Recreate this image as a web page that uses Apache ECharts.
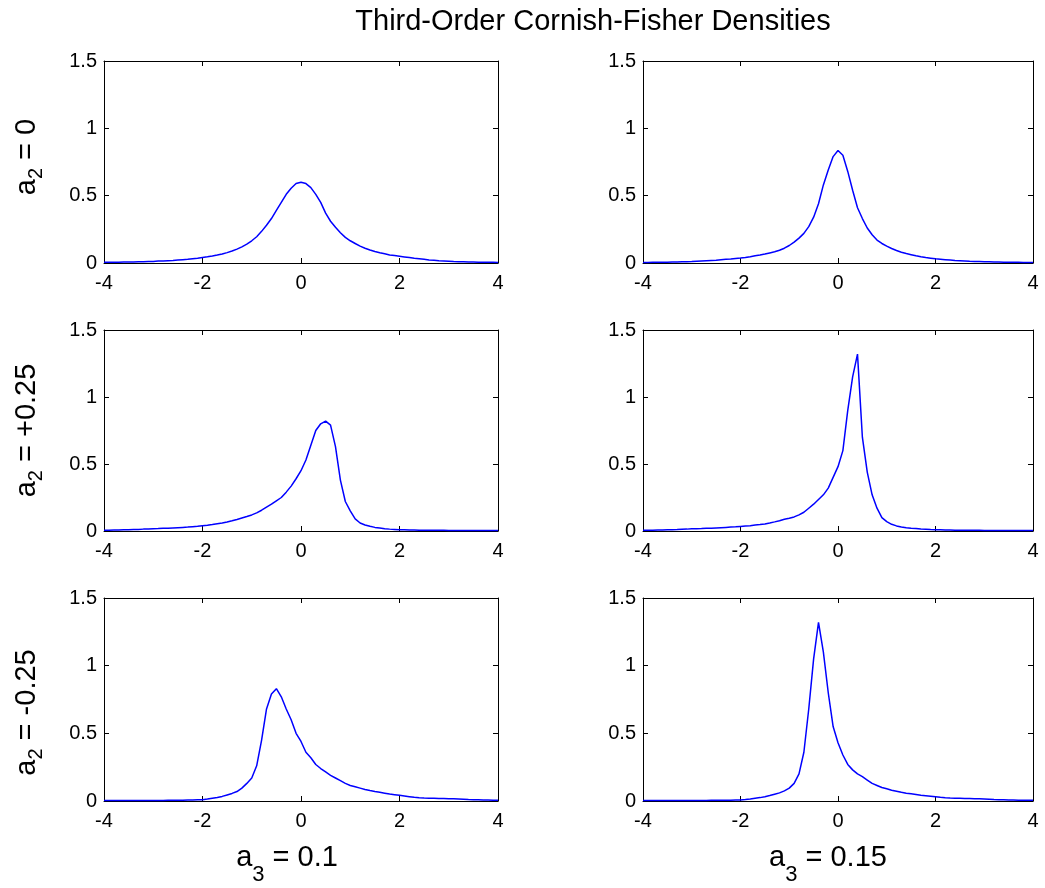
<!DOCTYPE html>
<html>
<head>
<meta charset="utf-8">
<script src="https://cdn.jsdelivr.net/npm/echarts@6/dist/echarts.min.js"></script>
<style>
html,body{margin:0;padding:0;background:#fff;}
#chart{width:1045px;height:888px;}
</style>
</head>
<body>
<div id="chart"></div>
<script>
const titleText = 'Third-Order Cornish-Fisher Densities';
const rowLabels = ['0', '+0.25', '-0.25'];   // a2 values
const colLabels = ['0.1', '0.15'];           // a3 values
const xTicks = [-4, -2, 0, 2, 4];
const yTicks = [0, 0.5, 1, 1.5];

const xs = [-4,-3.9,-3.8,-3.7,-3.6,-3.5,-3.4,-3.3,-3.2,-3.1,
  -3,-2.9,-2.8,-2.7,-2.6,-2.5,-2.4,-2.3,-2.2,-2.1,
  -2,-1.9,-1.8,-1.7,-1.6,-1.5,-1.4,-1.3,-1.2,-1.1,
  -1,-0.9,-0.8,-0.7,-0.6,-0.5,-0.4,-0.3,-0.2,-0.1,
  0,0.1,0.2,0.3,0.4,0.5,0.6,0.7,0.8,0.9,
  1,1.1,1.2,1.3,1.4,1.5,1.6,1.7,1.8,1.9,
  2,2.1,2.2,2.3,2.4,2.5,2.6,2.7,2.8,2.9,
  3,3.1,3.2,3.3,3.4,3.5,3.6,3.7,3.8,3.9,
  4];

// a2 = 0, a3 = 0.1
const yA2_0_A3_010 = [.005,.005,.006,.006,.007,.007,.008,.009,.010,.011,
  .012,.014,.015,.017,.019,.022,.025,.028,.032,.036,
  .041,.046,.052,.059,.067,.077,.089,.103,.12,.14,
  .165,.195,.235,.28,.33,.39,.45,.51,.555,.59,
  .6,.59,.56,.51,.45,.37,.31,.265,.225,.19,
  .165,.145,.125,.11,.097,.085,.076,.068,.06,.055,
  .05,.045,.04,.035,.031,.027,.023,.02,.017,.015,
  .013,.011,.01,.009,.008,.007,.006,.006,.005,.005,
  .004];
// a2 = 0, a3 = 0.15
const yA2_0_A3_015 = [.004,.004,.005,.005,.006,.006,.007,.008,.009,.01,
  .011,.013,.015,.017,.019,.021,.024,.027,.03,.034,
  .037,.041,.047,.054,.06,.067,.075,.083,.095,.11,
  .13,.155,.185,.22,.27,.34,.44,.58,.69,.79,
  .835,.8,.68,.54,.41,.33,.26,.21,.17,.145,
  .125,.108,.093,.08,.07,.062,.054,.047,.041,.036,
  .031,.028,.025,.022,.019,.017,.015,.013,.012,.011,
  .01,.009,.008,.007,.006,.006,.005,.005,.004,.004,
  .004];
// a2 = +0.25, a3 = 0.1
const yA2_p25_A3_010 = [.005,.006,.007,.008,.009,.01,.011,.012,.014,.015,
  .017,.018,.02,.021,.023,.025,.027,.029,.032,.035,
  .039,.043,.048,.054,.06,.067,.076,.086,.097,.108,
  .12,.135,.155,.178,.2,.225,.25,.29,.335,.39,
  .45,.53,.64,.75,.8,.82,.79,.63,.38,.22,
  .15,.09,.06,.045,.035,.027,.022,.017,.014,.012,
  .01,.009,.008,.007,.006,.006,.005,.005,.005,.005,
  .004,.004,.004,.004,.004,.004,.004,.004,.004,.004,
  .004];
// a2 = +0.25, a3 = 0.15
const yA2_p25_A3_015 = [.005,.005,.006,.007,.008,.009,.01,.011,.013,.014,
  .016,.017,.018,.02,.021,.023,.025,.027,.029,.031,
  .034,.037,.04,.044,.048,.053,.06,.068,.077,.087,
  .095,.105,.12,.14,.17,.2,.235,.27,.32,.4,
  .48,.6,.9,1.15,1.32,.7,.44,.27,.17,.1,
  .07,.05,.038,.03,.025,.021,.018,.015,.013,.011,
  .01,.009,.008,.007,.006,.006,.005,.005,.005,.005,
  .004,.004,.004,.004,.004,.004,.004,.004,.004,.004,
  .004];
// a2 = -0.25, a3 = 0.1
const yA2_m25_A3_010 = [.003,.003,.003,.003,.003,.003,.003,.003,.003,.004,
  .004,.004,.004,.005,.005,.005,.006,.007,.008,.009,
  .01,.014,.02,.026,.034,.045,.056,.07,.095,.13,
  .17,.26,.45,.68,.79,.83,.77,.68,.6,.5,
  .44,.36,.32,.27,.24,.215,.19,.17,.15,.13,
  .115,.105,.095,.085,.077,.07,.064,.058,.052,.047,
  .042,.037,.032,.027,.024,.022,.021,.02,.019,.018,
  .017,.016,.015,.013,.011,.01,.009,.008,.007,.006,
  .006];
// a2 = -0.25, a3 = 0.15
const yA2_m25_A3_015 = [.003,.003,.003,.003,.003,.003,.003,.003,.003,.003,
  .004,.004,.004,.004,.005,.005,.005,.006,.006,.007,
  .008,.011,.015,.02,.025,.032,.04,.05,.06,.075,
  .095,.13,.2,.36,.68,1.05,1.32,1.1,.8,.55,
  .43,.34,.27,.23,.2,.18,.155,.13,.115,.1,
  .09,.08,.072,.064,.058,.053,.048,.043,.039,.035,
  .031,.027,.024,.022,.021,.02,.019,.018,.017,.016,
  .015,.013,.011,.01,.009,.008,.007,.006,.006,.005,
  .005];

const panels = [
  [yA2_0_A3_010, yA2_0_A3_015],
  [yA2_p25_A3_010, yA2_p25_A3_015],
  [yA2_m25_A3_010, yA2_m25_A3_015]
];

const FONT = '"Liberation Sans", Arial, Helvetica, sans-serif';
const rowTops = [61, 330, 598];
const rowHeights = [202, 201, 203];
const colLefts = [104, 643];
const colWidths = [394, 390];
const yNamePad = [[0,0,0,10],[0,0,0,0],[0,26,0,0]];
const xNamePad = [[0,28,0,0],[0,20,0,0]];

const grids = [], xAxes = [], yAxes = [], series = [];
const tickStyle = {show:true, inside:true, length:5, lineStyle:{color:'#000', width:1}};
const lineStyle = {color:'#000', width:1};

for (let r = 0; r < 3; r++) {
  for (let c = 0; c < 2; c++) {
    const gi = grids.length;
    grids.push({left: colLefts[c], top: rowTops[r], width: colWidths[c], height: rowHeights[r], show:false});
    const xb = {
      gridIndex: gi, type:'value', min: xTicks[0], max: xTicks[xTicks.length-1], interval: 2,
      position:'bottom',
      axisLine:{show:true, onZero:false, lineStyle},
      axisTick: tickStyle,
      axisLabel:{show:true, color:'#000', fontSize:20, fontFamily:FONT, margin:10},
      splitLine:{show:false}
    };
    if (r === 2) {
      xb.name = '{m|a}{s|3}{m| = ' + colLabels[c] + '}';
      xb.nameLocation = 'middle';
      xb.nameGap = 28;
      xb.nameTextStyle = {
        padding: xNamePad[c],
        rich: {
          m: {fontSize:29, lineHeight:57, fontFamily:FONT, color:'#000'},
          s: {fontSize:22, lineHeight:22, verticalAlign:'bottom', fontFamily:FONT, color:'#000'}
        }
      };
    }
    xAxes.push(xb);
    xAxes.push({
      gridIndex: gi, type:'value', min: xTicks[0], max: xTicks[xTicks.length-1], interval: 2,
      position:'top',
      axisLine:{show:true, onZero:false, lineStyle},
      axisTick: tickStyle,
      axisLabel:{show:false},
      splitLine:{show:false}
    });
    const yl = {
      gridIndex: gi, type:'value', min: yTicks[0], max: yTicks[yTicks.length-1], interval: 0.5,
      position:'left',
      axisLine:{show:true, onZero:false, lineStyle},
      axisTick: tickStyle,
      axisLabel:{show:true, color:'#000', fontSize:20, fontFamily:FONT, margin:7},
      splitLine:{show:false}
    };
    if (c === 0) {
      yl.name = '{m|a}{s|2}{m| = ' + rowLabels[r] + '}';
      yl.nameLocation = 'middle';
      yl.nameRotate = 90;
      yl.nameGap = 58;
      yl.nameTextStyle = {
        padding: yNamePad[r],
        rich: {
          m: {fontSize:29, lineHeight:38, fontFamily:FONT, color:'#000'},
          s: {fontSize:20, lineHeight:20, verticalAlign:'bottom', fontFamily:FONT, color:'#000'}
        }
      };
    }
    yAxes.push(yl);
    yAxes.push({
      gridIndex: gi, type:'value', min: yTicks[0], max: yTicks[yTicks.length-1], interval: 0.5,
      position:'right',
      axisLine:{show:true, onZero:false, lineStyle},
      axisTick: tickStyle,
      axisLabel:{show:false},
      splitLine:{show:false}
    });
    const ys = panels[r][c];
    series.push({
      type:'line',
      xAxisIndex: gi*2, yAxisIndex: gi*2,
      data: xs.map((x, i) => [x, ys[i]]),
      showSymbol:false, symbol:'none',
      lineStyle:{color:'#0000ff', width:1.5},
      z: 5
    });
  }
}

const chart = echarts.init(document.getElementById('chart'), null, {renderer:'canvas'});
chart.setOption({
  animation:false,
  backgroundColor:'#fff',
  graphic:[{
    type:'text', x:593, y:22, z:10,
    style:{text:titleText, fill:'#000', font:'29px ' + FONT, fontSize:29, fontFamily:FONT,
      align:'center', verticalAlign:'middle', textAlign:'center', textVerticalAlign:'middle'}
  }],
  grid: grids,
  xAxis: xAxes,
  yAxis: yAxes,
  series: series
});
</script>
</body>
</html>
